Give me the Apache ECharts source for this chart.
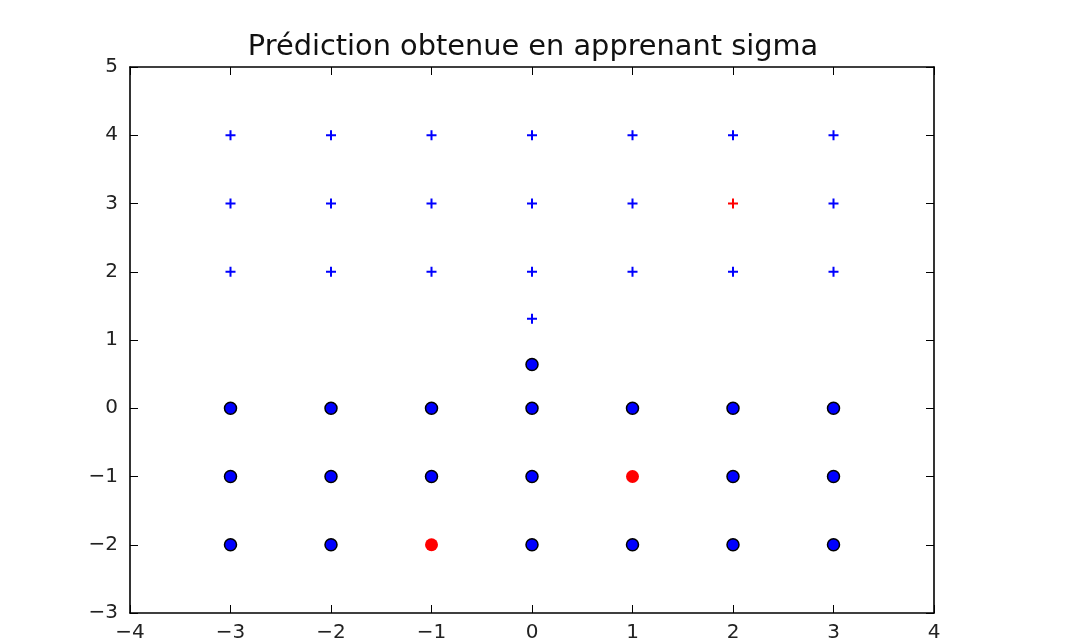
<!DOCTYPE html>
<html>
<head>
<meta charset="utf-8">
<script src="https://cdn.jsdelivr.net/npm/echarts@6/dist/echarts.min.js"></script>
<style>
  html, body { margin: 0; padding: 0; background: #fff; }
  #chart { width: 1091px; height: 643px; }
</style>
</head>
<body>
<div id="chart"></div>
<script>
// Points predicted as class "+" (drawn as crosses)
const plusCorrect = [
  [-3, 4], [-2, 4], [-1, 4], [0, 4], [1, 4], [2, 4], [3, 4],
  [-3, 3], [-2, 3], [-1, 3], [0, 3], [1, 3], [3, 3],
  [-3, 2], [-2, 2], [-1, 2], [0, 2], [1, 2], [2, 2], [3, 2],
  [0, 1.31]
];
const plusWrong = [[2, 3]];

// Points predicted as class "o" (drawn as dots)
const dotCorrect = [
  [0, 0.64],
  [-3, 0], [-2, 0], [-1, 0], [0, 0], [1, 0], [2, 0], [3, 0],
  [-3, -1], [-2, -1], [-1, -1], [0, -1], [2, -1], [3, -1],
  [-3, -2], [-2, -2], [0, -2], [1, -2], [2, -2], [3, -2]
];
const dotWrong = [[-1, -2], [1, -1]];

const xTicks = { min: -4, max: 4, step: 1 };
const yTicks = { min: -3, max: 5, step: 1 };
const titleText = 'Prédiction obtenue en apprenant sigma';

const FONT = 'DejaVu Sans';
const minus = v => (v < 0 ? '\u2212' + Math.abs(v) : String(v));
const PLUS = 'path://M4,0h2v4h4v2h-4v4h-2v-4h-4v-2h4z';

function axisBase(type, pos, ticks, showLabel) {
  return {
    type: 'value', position: pos,
    min: ticks.min, max: ticks.max, interval: ticks.step,
    axisLine: { show: true, onZero: false, lineStyle: { color: '#000', width: 1.6 } },
    axisTick: { show: true, inside: true, length: 8, lineStyle: { color: '#000', width: 1 } },
    splitLine: { show: false },
    axisLabel: {
      show: showLabel, color: '#222', fontFamily: FONT, fontSize: 20,
      margin: type === 'x' ? 10 : 12, formatter: minus
    }
  };
}

const chart = echarts.init(document.getElementById('chart'), null, { renderer: 'canvas' });
chart.setOption({
  animation: false,
  backgroundColor: '#fff',
  title: {
    text: titleText, left: 528, textAlign: 'center', top: 28,
    textStyle: { fontFamily: FONT, fontSize: 28.8, fontWeight: 'normal', color: '#111' }
  },
  grid: { left: 130, right: 157, top: 67, bottom: 28, containLabel: false },
  xAxis: [axisBase('x', 'bottom', xTicks, true), axisBase('x', 'top', xTicks, false)],
  yAxis: [axisBase('y', 'left', yTicks, true), axisBase('y', 'right', yTicks, false)],
  series: [
    {
      type: 'scatter', data: plusCorrect, symbol: PLUS, symbolSize: 10,
      itemStyle: { color: '#0000ff', opacity: 1 }
    },
    {
      type: 'scatter', data: plusWrong, symbol: PLUS, symbolSize: 10,
      itemStyle: { color: '#ff0000', opacity: 1 }
    },
    {
      type: 'scatter', data: dotCorrect, symbol: 'circle', symbolSize: 12,
      itemStyle: { color: '#0000ff', borderColor: '#000', borderWidth: 1.5, opacity: 1 }
    },
    {
      type: 'scatter', data: dotWrong, symbol: 'circle', symbolSize: 13,
      itemStyle: { color: '#ff0000', opacity: 1 }
    }
  ]
});
</script>
</body>
</html>
